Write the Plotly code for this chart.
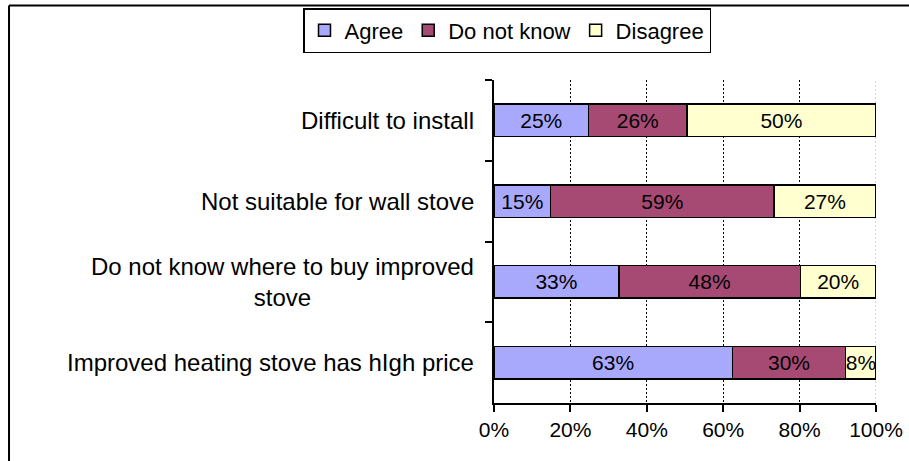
import plotly.graph_objects as go

categories = [
    "Difficult to install",
    "Not suitable for wall stove",
    "Do not know where to buy improved<br>stove",
    "Improved heating stove has hIgh price",
]
series_names = ["Agree", "Do not know", "Disagree"]
agree = [25, 15, 33, 63]
do_not_know = [26, 59, 48, 30]
disagree = [50, 27, 20, 8]
x_tick_vals = [0, 20, 40, 60, 80, 100]
x_tick_text = ["0%", "20%", "40%", "60%", "80%", "100%"]

colors = ["#a8a8fc", "#a64a74", "#ffffd0"]
FONT = "Liberation Sans, Arial, sans-serif"

fig = go.Figure()
for name, vals, col in zip(series_names, [agree, do_not_know, disagree], colors):
    fig.add_trace(go.Bar(
        y=categories, x=vals, name=name, orientation="h",
        marker=dict(color=col, line=dict(color="black", width=1.5)),
        text=[f"{v}%" for v in vals],
        textposition="inside", insidetextanchor="middle", textangle=0,
        insidetextfont=dict(color="black", size=21, family=FONT),
        constraintext="none",
    ))

for c in categories:
    fig.add_annotation(x=0, xref="paper", y=c, yref="y", text=c,
                       xanchor="right", xshift=-18, align="center",
                       showarrow=False, font=dict(size=24, color="black", family=FONT))

# light dotted gridline at the 100% end
fig.add_shape(type="line", xref="x", yref="paper", x0=100, x1=100, y0=0, y1=1,
              line=dict(color="#b0b0b0", width=1, dash="2px,2px"), layer="below")

# chart border (top and left)
fig.add_shape(type="line", xref="paper", yref="paper", x0=-1.2696, x1=1.1, y0=1.2307, y1=1.2307,
              line=dict(color="black", width=2))
fig.add_shape(type="line", xref="paper", yref="paper", x0=-1.2696, x1=-1.2696, y0=-0.3, y1=1.2307,
              line=dict(color="black", width=2))

fig.update_layout(
    width=909, height=461,
    margin=dict(l=494, r=33, t=80, b=58, autoexpand=False),
    barmode="stack", barnorm="percent", bargap=0.6,
    paper_bgcolor="white", plot_bgcolor="white",
    font=dict(family=FONT, size=21, color="black"),
    uniformtext=dict(minsize=21, mode="show"),
    showlegend=True,
    legend=dict(orientation="h", x=-0.5, xanchor="left", y=1.2229, yanchor="top",
                bordercolor="black", borderwidth=1.5, bgcolor="white",
                font=dict(size=22, family=FONT), itemwidth=30, traceorder="normal"),
    xaxis=dict(range=[0, 100], tickvals=x_tick_vals, ticktext=x_tick_text,
               showline=True, linecolor="black", linewidth=2,
               ticks="outside", ticklen=7, tickcolor="black", tickwidth=1.5,
               showgrid=True, gridcolor="black", gridwidth=1, griddash="2px,2px",
               zeroline=False, tickfont=dict(size=21)),
    yaxis=dict(type="category", autorange="reversed", showticklabels=False,
               showline=True, linecolor="black", linewidth=2,
               ticks="outside", ticklen=7, tickcolor="black", tickwidth=1.5,
               tickson="boundaries", showgrid=False, zeroline=False),
)

fig.write_html("out.html", config={"displayModeBar": False},
               post_script="document.body.style.margin='0';")
